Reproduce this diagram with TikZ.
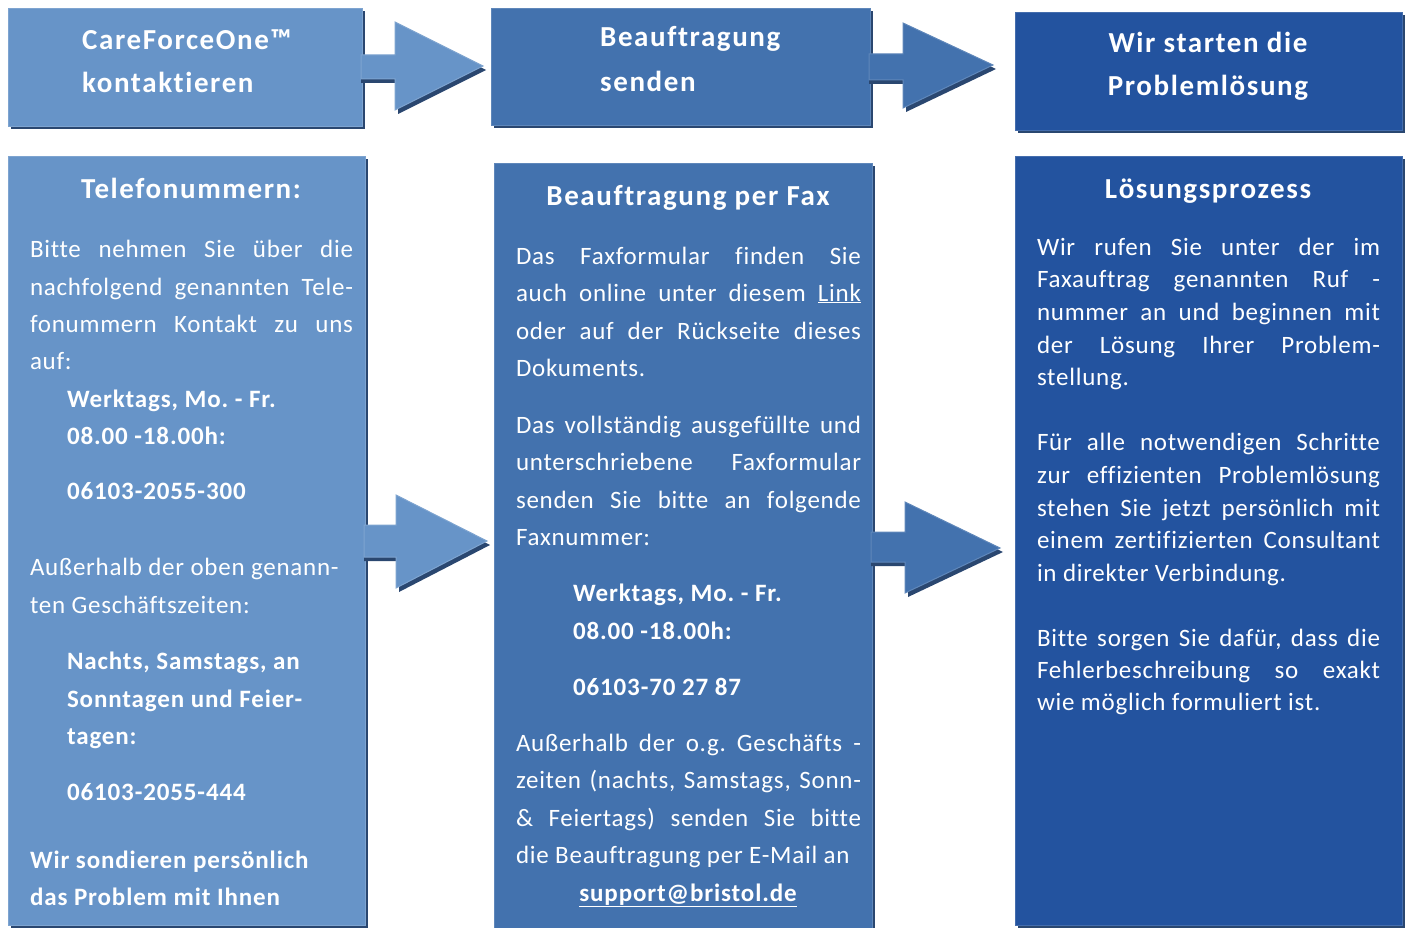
\documentclass[tikz,border=0pt]{standalone}
\usepackage{fontspec}
\setmainfont{Carlito}[Ligatures={NoCommon}]
\newfontfamily\bodyfam{Carlito}[LetterSpace=3,Ligatures={NoCommon}]
\newfontfamily\boldfam{Carlito}[LetterSpace=3.5,Ligatures={NoCommon}]
\newfontfamily\ttlfam{Carlito}[LetterSpace=5.5,Ligatures={NoCommon}]
\definecolor{cL}{HTML}{6794C8}
\definecolor{cM}{HTML}{4372AE}
\definecolor{cR}{HTML}{23539F}
\definecolor{shd}{HTML}{2A4770}
\frenchspacing
\newcommand\bodyf{\bodyfam\fontsize{25}{30}\selectfont\frenchspacing}
\newcommand\boldf{\boldfam\fontsize{25}{30}\selectfont\bfseries\frenchspacing}
\newcommand\titlef{\ttlfam\fontsize{29}{34}\selectfont\bfseries\frenchspacing}
\begin{document}
\begin{tikzpicture}[x=1pt,y=-1pt,
  box/.style={draw=#1!85!white, line width=1.2pt, fill=#1},
  shadow/.style={fill=shd},
  txt/.style={anchor=base west, inner sep=0pt, outer sep=0pt, text=white, font=\bodyf},
  btxt/.style={txt, font=\boldf},
  ttl/.style={anchor=base, inner sep=0pt, text=white, font=\titlef},
  ttlw/.style={anchor=base west, inner sep=0pt, text=white, font=\titlef}]
\useasboundingbox (0,0) rectangle (1407,928);
\newcommand\jl[5]{\node[txt] (#1) at (#2,#3) {\makebox[#4pt][s]{#5}};}
\newcommand\pl[4]{\node[txt] (#1) at (#2,#3) {#4};}
\newcommand\bl[4]{\node[btxt] (#1) at (#2,#3) {#4};}
% shadows
\fill[shadow] (11,11) rectangle (365,129);
\fill[shadow] (494,11) rectangle (873,128);
\fill[shadow] (1018,15) rectangle (1405,133);
\fill[shadow] (11,159) rectangle (368,928);
\fill[shadow] (497,166) rectangle (875,931);
\fill[shadow] (1018,159) rectangle (1405,928);
% boxes
\node[box=cL, anchor=north west, minimum width=354pt, minimum height=118pt, inner sep=0pt] (A) at (8,8) {};
\node[box=cM, anchor=north west, minimum width=379pt, minimum height=117pt, inner sep=0pt] (B) at (491,8) {};
\node[box=cR, anchor=north west, minimum width=387pt, minimum height=118pt, inner sep=0pt] (C) at (1015,12) {};
\node[box=cL, anchor=north west, minimum width=357pt, minimum height=769pt, inner sep=0pt] (D) at (8,156) {};
\node[box=cM, anchor=north west, minimum width=378pt, minimum height=768pt, inner sep=0pt] (E) at (494,163) {};
\node[box=cR, anchor=north west, minimum width=387pt, minimum height=769pt, inner sep=0pt] (F) at (1015,156) {};
% block arrows
\newcommand\barrow[9]{% col, x0, sTop, sBot, hx, hTop, hBot, tipx, tipy
  \fill[shd] (#2,#3+3) -- (#5+3,#3+3) -- (#5+3,#6+4) -- (#8+3,#9+4) -- (#5+3,#7+4) -- (#5+3,#4+4) -- (#2,#4+4) -- cycle;
  \draw[fill=#1, draw=#1!85!white, line width=1pt] (#2,#3) -- (#5,#3) -- (#5,#6) -- (#8,#9) -- (#5,#7) -- (#5,#4) -- (#2,#4) -- cycle;}
\barrow{cL}{361}{55}{79}{395}{22}{110}{483}{66}
\barrow{cM}{869}{54}{80}{903}{23}{108}{993}{65}
\barrow{cL}{364}{525}{557}{396}{495}{588}{487}{541}
\barrow{cM}{871}{532}{562}{905}{502}{593}{1000}{548}
% top titles
\node[ttlw] (a1) at (82,50) {CareForceOne™};
\node[ttlw] (a2) at (82,93) {kontaktieren};
\node[ttlw] (b1) at (600,47) {Beauftragung};
\node[ttlw] (b2) at (600,92) {senden};
\node[ttl] (c1) at (1208,53) {Wir starten die};
\node[ttl] (c2) at (1208,96) {Problemlösung};
% column titles
\node[ttl] (d0) at (191,199) {Telefonummern:};
\node[ttl] (e0) at (688,205) {Beauftragung per Fax};
\node[ttl] (f0) at (1208,199) {Lösungsprozess};
% left column
\jl{d1}{30}{257}{323}{Bitte nehmen Sie über die}
\jl{d2}{30}{295}{323}{nachfolgend genannten Tele-}
\jl{d3}{30}{332}{323}{fonummern Kontakt zu uns}
\pl{d4}{30}{369}{auf:}
\bl{d5}{67}{407}{Werktags, Mo. - Fr.}
\bl{d6}{67}{444}{08.00 -18.00h:}
\bl{d7}{67}{499}{06103-2055-300}
\pl{d8}{30}{575}{Außerhalb der oben genann-}
\pl{d9}{30}{613}{ten Geschäftszeiten:}
\bl{d10}{67}{669}{Nachts, Samstags, an}
\bl{d11}{67}{707}{Sonntagen und Feier-}
\bl{d12}{67}{744}{tagen:}
\bl{d13}{67}{800}{06103-2055-444}
\bl{d14}{30}{868}{Wir sondieren persönlich}
\bl{d15}{30}{905}{das Problem mit Ihnen}
% middle column
\jl{e1}{516}{264}{345}{Das Faxformular finden Sie}
\jl{e2}{516}{301}{345}{auch online unter diesem \underline{Link}}
\jl{e3}{516}{339}{345}{oder auf der Rückseite dieses}
\pl{e4}{516}{376}{Dokuments.}
\jl{e5}{516}{433}{345}{Das vollständig ausgefüllte und}
\jl{e6}{516}{470}{345}{unterschriebene Faxformular}
\jl{e7}{516}{508}{345}{senden Sie bitte an folgende}
\pl{e8}{516}{545}{Faxnummer:}
\bl{e9}{573}{601}{Werktags, Mo. - Fr.}
\bl{e10}{573}{639}{08.00 -18.00h:}
\bl{e11}{573}{695}{06103-70 27 87}
\jl{e12}{516}{751}{345}{Außerhalb der o.g. Geschäfts -}
\jl{e13}{516}{788}{345}{zeiten (nachts, Samstags, Sonn-}
\jl{e14}{516}{826}{345}{\& Feiertags) senden Sie bitte}
\pl{e15}{516}{863}{die Beauftragung per E-Mail an}
\node[btxt, anchor=base] (e16) at (688,901) {\underline{support@bristol.de}};
% right column
\jl{f1}{1037}{255}{343}{Wir rufen Sie unter der im}
\jl{f2}{1037}{287}{343}{Faxauftrag genannten Ruf -}
\jl{f3}{1037}{320}{343}{nummer an und beginnen mit}
\jl{f4}{1037}{353}{343}{der Lösung Ihrer Problem-}
\pl{f5}{1037}{385}{stellung.}
\jl{f6}{1037}{450}{343}{Für alle notwendigen Schritte}
\jl{f7}{1037}{483}{343}{zur effizienten Problemlösung}
\jl{f8}{1037}{516}{343}{stehen Sie jetzt persönlich mit}
\jl{f9}{1037}{548}{343}{einem zertifizierten Consultant}
\pl{f10}{1037}{581}{in direkter Verbindung.}
\jl{f11}{1037}{646}{343}{Bitte sorgen Sie dafür, dass die}
\jl{f12}{1037}{678}{343}{Fehlerbeschreibung so exakt}
\pl{f13}{1037}{710}{wie möglich formuliert ist.}
\end{tikzpicture}
\end{document}
